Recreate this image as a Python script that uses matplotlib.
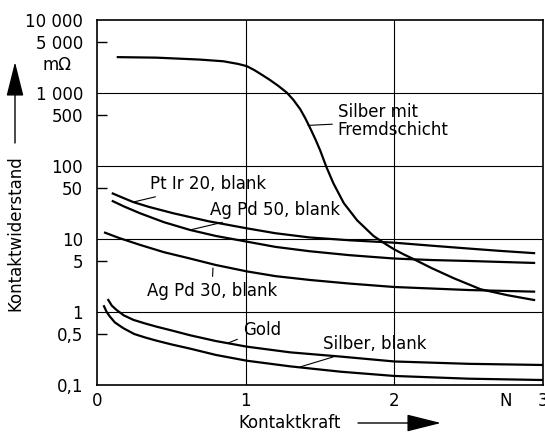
import matplotlib
matplotlib.use('Agg')
import matplotlib.pyplot as plt
from matplotlib.patches import FancyArrowPatch
from matplotlib.ticker import FixedLocator, NullFormatter

# Kontaktkraft in N, Kontaktwiderstand in mOhm
silber_fremd_x = [0.14, 0.4, 0.69, 0.85, 0.95, 1.008, 1.06, 1.12, 1.165, 1.22, 1.277, 1.32, 1.367,
                  1.40, 1.434, 1.47, 1.502, 1.542, 1.59, 1.66, 1.75, 1.86, 1.95, 2.0, 2.06,
                  2.13, 2.25, 2.4, 2.58, 2.76, 2.94]
silber_fremd_y = [3100, 3050, 2870, 2720, 2500, 2330, 2050, 1720, 1500, 1250, 1010, 810, 600,
                  455, 330, 230, 162, 98, 58, 31, 18, 11, 8.3, 7.2, 6.2,
                  5.3, 4.0, 2.9, 2.05, 1.7, 1.46]

ptir20_x = [0.106, 0.17, 0.245, 0.35, 0.514, 0.75, 1.008, 1.2, 1.43, 1.7, 2.0, 2.25, 2.5, 2.7, 2.94]
ptir20_y = [42, 37, 32, 27.5, 22.5, 17.5, 14, 12, 10.5, 9.6, 8.9, 8.1, 7.4, 6.9, 6.4]

agpd50_x = [0.106, 0.18, 0.29, 0.45, 0.626, 0.8, 1.008, 1.2, 1.43, 1.7, 2.0, 2.25, 2.5, 2.94]
agpd50_y = [33, 28, 22.5, 17, 13.3, 11, 9.2, 7.8, 6.8, 6.0, 5.4, 5.15, 5.0, 4.7]

agpd30_x = [0.054, 0.15, 0.29, 0.45, 0.626, 0.8, 1.008, 1.2, 1.43, 1.7, 2.0, 2.5, 2.94]
agpd30_y = [12.2, 10.3, 8.3, 6.6, 5.4, 4.4, 3.6, 3.1, 2.75, 2.45, 2.2, 2.0, 1.9]

gold_x = [0.076, 0.10, 0.133, 0.18, 0.245, 0.32, 0.40, 0.5, 0.626, 0.8, 1.008, 1.3, 1.64,
          2.0, 2.5, 3.0]
gold_y = [1.46, 1.22, 1.06, 0.9, 0.78, 0.7, 0.63, 0.56, 0.48, 0.4, 0.335, 0.28, 0.245,
          0.21, 0.195, 0.188]

silber_blank_x = [0.047, 0.065, 0.088, 0.12, 0.177, 0.25, 0.32, 0.40, 0.5, 0.626, 0.8, 1.008,
                  1.3, 1.64, 2.0, 2.5, 3.0]
silber_blank_y = [1.2, 1.0, 0.86, 0.72, 0.6, 0.5, 0.45, 0.405, 0.36, 0.315, 0.258, 0.215,
                  0.18, 0.152, 0.133, 0.122, 0.117]

y_major = [0.1, 1, 10, 100, 1000, 10000]
y_major_labels = ['0,1', '1', '10', '100', '1 000', '10 000']
y_minor = [0.5, 5, 50, 500, 5000]
y_minor_labels = ['0,5', '5', '50', '500', '5 000']
x_ticks = [0, 1, 2, 2.75, 3]
x_tick_labels = ['0', '1', '2', 'N', '3']

# label text, anchor on curve, text position
annotations = [
    ('Silber mit\nFremdschicht', (1.42, 360), (1.62, 410)),
    ('Pt Ir 20, blank', (0.242, 32), (0.355, 56)),
    ('Ag Pd 50, blank', (0.626, 13.3), (0.76, 25)),
    ('Ag Pd 30, blank', (0.78, 4.0), (0.335, 1.94)),
    ('Gold', (0.882, 0.376), (0.98, 0.575)),
    ('Silber, blank', (1.367, 0.177), (1.52, 0.36)),
]

plt.rcParams['font.family'] = 'DejaVu Sans'
fig = plt.figure(figsize=(5.45, 4.37), dpi=100)
ax = fig.add_axes([97 / 545, 1 - 385 / 437, 446 / 545, 365 / 437])

for xs, ys in [(silber_fremd_x, silber_fremd_y), (ptir20_x, ptir20_y), (agpd50_x, agpd50_y),
               (agpd30_x, agpd30_y), (gold_x, gold_y), (silber_blank_x, silber_blank_y)]:
    ax.plot(xs, ys, color='black', linewidth=1.6, solid_joinstyle='round')

ax.set_yscale('log')
ax.set_xlim(0, 3)
ax.set_ylim(0.1, 10000)

# grid lines like the printed chart
for gx in [1, 2]:
    ax.axvline(gx, color='black', linewidth=0.8)
for gy in [1, 10, 100, 1000]:
    ax.axhline(gy, color='black', linewidth=0.8)

ax.yaxis.set_major_locator(FixedLocator(y_major))
ax.set_yticklabels(y_major_labels)
ax.yaxis.set_minor_formatter(NullFormatter())
ax.set_yticks(y_minor, labels=y_minor_labels, minor=True)
ax.tick_params(axis='y', which='major', length=0, pad=10, labelsize=12)
ax.tick_params(axis='y', which='minor', direction='in', length=7, width=1.0, pad=10, labelsize=12)

ax.set_xticks(x_ticks, labels=x_tick_labels)
ax.tick_params(axis='x', which='both', length=0, pad=5, labelsize=12)

for side in ['left', 'bottom', 'top', 'right']:
    ax.spines[side].set_linewidth(1.2)

ax.annotate('m\u03a9', xy=(0, 2400), xycoords=('axes fraction', 'data'),
            xytext=(-40, 0), textcoords='offset pixels', ha='center', va='center', fontsize=12)

for text, (px, py), (tx, ty) in annotations:
    ax.annotate(text, xy=(px, py), xytext=(tx, ty), fontsize=12, ha='left', va='center',
                linespacing=1.0,
                arrowprops=dict(arrowstyle='-', color='black', linewidth=0.8, shrinkA=2, shrinkB=0))

# axis labels with arrows
arrow_style = '-|>,head_length=1.8,head_width=0.45'
fig.text(238 / 545, 1 - 423 / 437, 'Kontaktkraft', fontsize=12, ha='left', va='center')
fig.add_artist(FancyArrowPatch((358 / 545, 1 - 423 / 437), (441 / 545, 1 - 423 / 437),
                               transform=fig.transFigure, arrowstyle=arrow_style,
                               color='black', linewidth=1.0, mutation_scale=12, shrinkA=0, shrinkB=0))
fig.text(15 / 545, 1 - 233 / 437, 'Kontaktwiderstand', fontsize=12, rotation=90, ha='center', va='center')
fig.add_artist(FancyArrowPatch((15 / 545, 1 - 143 / 437), (15 / 545, 1 - 62 / 437),
                               transform=fig.transFigure, arrowstyle=arrow_style,
                               color='black', linewidth=1.0, mutation_scale=12, shrinkA=0, shrinkB=0))

fig.savefig('out.png', dpi=100, facecolor='white')
